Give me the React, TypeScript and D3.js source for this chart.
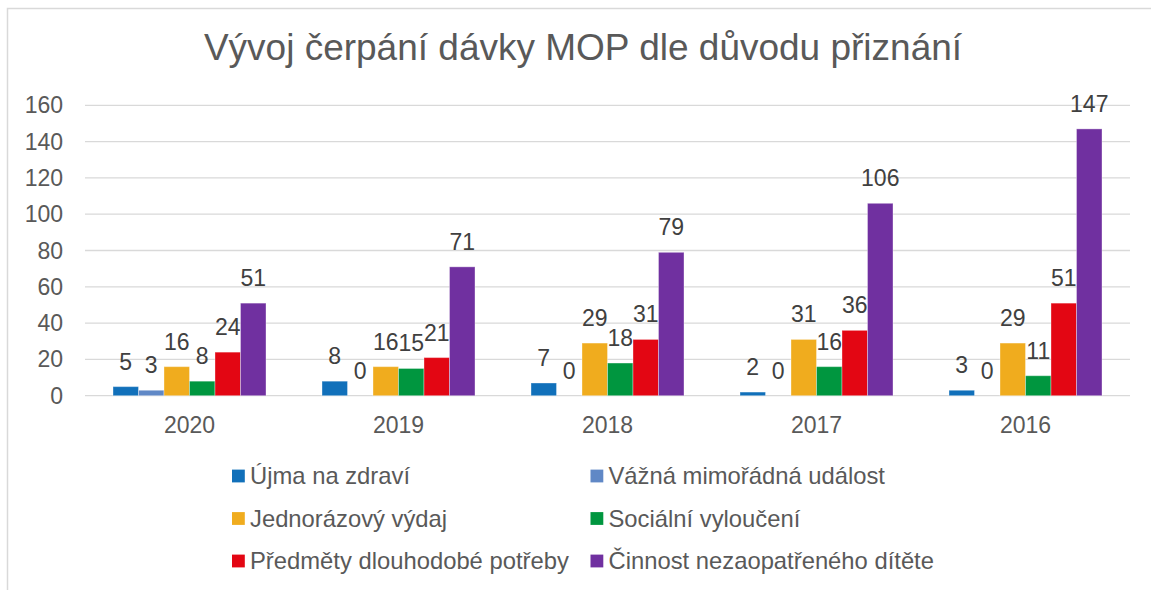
import React from "react";
import * as d3 from "d3";

const years = ["2020", "2019", "2018", "2017", "2016"];
const seriesNames = [
  "Újma na zdraví",
  "Vážná mimořádná událost",
  "Jednorázový výdaj",
  "Sociální vyloučení",
  "Předměty dlouhodobé potřeby",
  "Činnost nezaopatřeného dítěte",
];
const seriesColors = ["#1170BA", "#6088C6", "#F0AC1E", "#00963F", "#E30613", "#7030A0"];
const ujma = [5, 8, 7, 2, 3];
const vazna = [3, 0, 0, 0, 0];
const jednorazovy = [16, 16, 29, 31, 29];
const socialni = [8, 15, 18, 16, 11];
const predmety = [24, 21, 31, 36, 51];
const cinnost = [51, 71, 79, 106, 147];
const seriesValues = [ujma, vazna, jednorazovy, socialni, predmety, cinnost];
const yTicks = [0, 20, 40, 60, 80, 100, 120, 140, 160];
const title = "Vývoj čerpání dávky MOP dle důvodu přiznání";

const W = 1151;
const H = 590;
const FONT = "'Liberation Sans', Arial, sans-serif";

export default function App() {
  const x0 = d3
    .scaleBand<string>()
    .domain(years)
    .range([85, 1130])
    .paddingInner(0.268)
    .paddingOuter(0.134);
  const x1 = d3
    .scaleBand<number>()
    .domain(d3.range(seriesNames.length))
    .range([0, x0.bandwidth()])
    .padding(0);
  const y = d3.scaleLinear().domain([0, 160]).range([395.7, 105.3]);

  const legendCols = [232, 590.5];
  const legendRows = [476, 518.5, 561];

  return (
    <svg
      width={W}
      height={H}
      style={{ position: "absolute", left: 0, top: 0, background: "#fff" }}
      fontFamily={FONT}
    >
      <rect x={7.5} y={8.5} width={W + 20} height={H + 20} fill="#fff" stroke="#d9d9d9" strokeWidth={1.5} />
      <text x={583} y={60} textAnchor="middle" fontSize={37} fill="#595959">
        {title}
      </text>
      {yTicks.map((t) => (
        <g key={t}>
          <line x1={85} x2={1130} y1={y(t)} y2={y(t)} stroke="#d9d9d9" strokeWidth={1.3} />
          <text x={63} y={y(t)} dy="0.35em" textAnchor="end" fontSize={23} fill="#595959">
            {t}
          </text>
        </g>
      ))}
      {years.map((yr, gi) => (
        <g key={yr} transform={`translate(${x0(yr)},0)`}>
          {seriesValues.map((vals, si) => {
            const v = vals[gi];
            const bx = x1(si)!;
            const bw = x1.bandwidth();
            return (
              <g key={si}>
                {v > 0 && (
                  <rect
                    x={bx}
                    y={y(v)}
                    width={bw}
                    height={y(0) - y(v)}
                    fill={seriesColors[si]}
                    stroke="#ffffff"
                    strokeOpacity={0.35}
                    strokeWidth={1}
                  />
                )}
                <text x={bx + bw / 2} y={y(v) - 17} textAnchor="middle" fontSize={23} fill="#404040">
                  {v}
                </text>
              </g>
            );
          })}
          <text x={x0.bandwidth() / 2} y={432.7} textAnchor="middle" fontSize={23} fill="#595959">
            {yr}
          </text>
        </g>
      ))}
      {seriesNames.map((name, i) => {
        const cx = legendCols[i % 2];
        const cy = legendRows[Math.floor(i / 2)];
        return (
          <g key={name}>
            <rect x={cx} y={cy - 6.4} width={12.8} height={12.8} fill={seriesColors[i]} />
            <text x={cx + 18} y={cy} dy="0.35em" fontSize={23.8} fill="#595959">
              {name}
            </text>
          </g>
        );
      })}
    </svg>
  );
}
